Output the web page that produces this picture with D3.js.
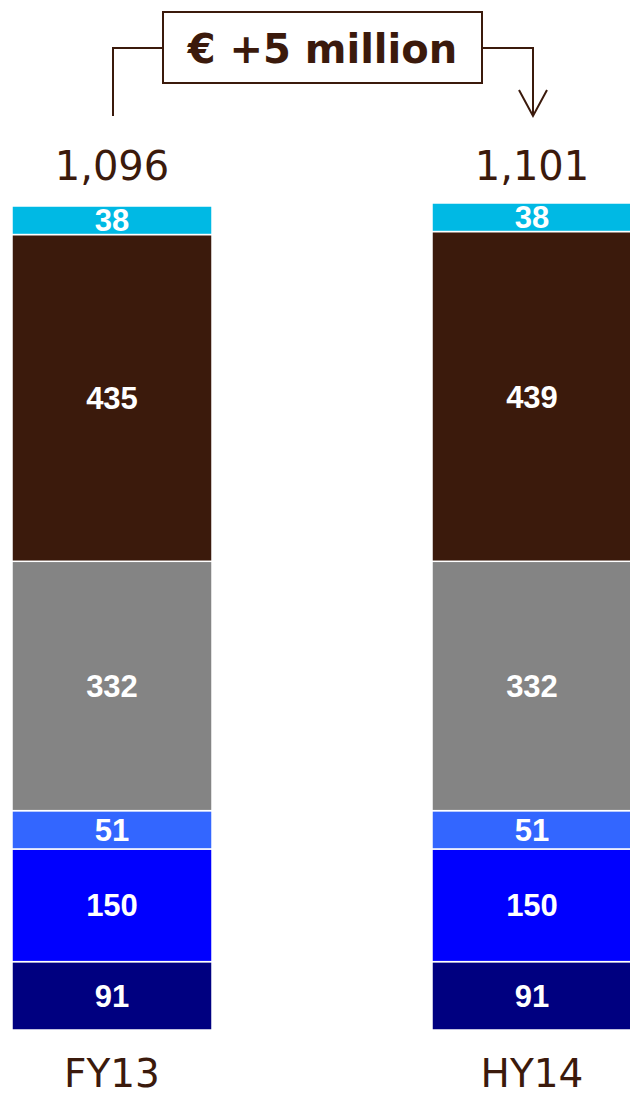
<!DOCTYPE html>
<html>
<head>
<meta charset="utf-8">
<script src="https://cdn.jsdelivr.net/npm/d3@7"></script>
<style>
  html, body { margin: 0; padding: 0; background: #fff; }
  svg { display: block; }
</style>
</head>
<body>
<svg id="chart" width="630" height="1097"></svg>
<script>
// Periods shown as columns
const periods = ["FY13", "HY14"];
const totals = ["1,096", "1,101"];
// Stack components, bottom to top
const segmentKeys = ["s1", "s2", "s3", "s4", "s5", "s6"];
const segmentColors = ["#000080", "#0000ff", "#3366ff", "#848484", "#3b1a0c", "#00b9e4"];
const valuesFY13 = [91, 150, 51, 332, 435, 38];
const valuesHY14 = [91, 150, 51, 332, 439, 38];
const deltaLabel = "€ +5 million";

const brown = "#3b1a0c";
const svg = d3.select("#chart");

const rows = periods.map((p, i) => {
  const vals = i === 0 ? valuesFY13 : valuesHY14;
  const r = { period: p, total: totals[i] };
  segmentKeys.forEach((k, j) => r[k] = vals[j]);
  return r;
});

const stack = d3.stack().keys(segmentKeys);
const series = stack(rows);

const x = d3.scalePoint().domain(periods).range([112, 532]);
const barW = 200;
const y = d3.scaleLinear().domain([0, 1097]).range([1030, 206]);

const layer = svg.append("g")
  .selectAll("g")
  .data(series)
  .join("g")
  .attr("fill", (d, i) => segmentColors[i]);

layer.selectAll("rect")
  .data(d => d)
  .join("rect")
  .attr("x", d => x(d.data.period) - barW / 2)
  .attr("width", barW)
  .attr("y", d => y(d[1]))
  .attr("height", d => y(d[0]) - y(d[1]))
  .attr("stroke", "#fff")
  .attr("stroke-width", 1.5);

// Value labels inside segments
layer.selectAll("text")
  .data(d => d.map(v => ({ v, key: d.key })))
  .join("text")
  .attr("x", d => x(d.v.data.period))
  .attr("y", d => (y(d.v[0]) + y(d.v[1])) / 2)
  .attr("dy", "0.36em")
  .attr("text-anchor", "middle")
  .attr("fill", "#fff")
  .attr("font-family", "'Liberation Sans', Arial, sans-serif")
  .attr("font-weight", "bold")
  .attr("font-size", 31)
  .text(d => d.v.data[d.key]);

// Totals above bars
svg.append("g")
  .selectAll("text")
  .data(rows)
  .join("text")
  .attr("x", d => x(d.period))
  .attr("y", 180)
  .attr("text-anchor", "middle")
  .attr("fill", brown)
  .attr("font-family", "'DejaVu Sans', Verdana, sans-serif")
  .attr("font-size", 40)
  .text(d => d.total);

// Category labels under bars
svg.append("g")
  .selectAll("text")
  .data(periods)
  .join("text")
  .attr("x", d => x(d))
  .attr("y", 1087)
  .attr("text-anchor", "middle")
  .attr("fill", brown)
  .attr("font-family", "'DejaVu Sans', Verdana, sans-serif")
  .attr("font-size", 39)
  .text(d => d);

// Change annotation with connector and arrow
const ann = svg.append("g");
const boxL = 163, boxR = 482, boxT = 12, boxB = 83, lineY = 48;
const leftX = 113, rightX = 533, lineBottom = 116;

ann.append("path")
  .attr("d", `M${leftX},${lineBottom} V${lineY} H${boxL}`)
  .attr("fill", "none").attr("stroke", brown).attr("stroke-width", 2);
ann.append("path")
  .attr("d", `M${boxR},${lineY} H${rightX} V${lineBottom}`)
  .attr("fill", "none").attr("stroke", brown).attr("stroke-width", 2);
ann.append("path")
  .attr("d", `M${rightX - 14},${lineBottom - 26} L${rightX},${lineBottom} L${rightX + 14},${lineBottom - 26}`)
  .attr("fill", "none").attr("stroke", brown).attr("stroke-width", 2);

ann.append("rect")
  .attr("x", boxL).attr("y", boxT)
  .attr("width", boxR - boxL).attr("height", boxB - boxT)
  .attr("fill", "#fff").attr("stroke", brown).attr("stroke-width", 2);

ann.append("text")
  .attr("x", (boxL + boxR) / 2)
  .attr("y", 63)
  .attr("text-anchor", "middle")
  .attr("fill", brown)
  .attr("font-family", "'DejaVu Sans', Verdana, sans-serif")
  .attr("font-weight", "bold")
  .attr("font-size", 40)
  .text(deltaLabel);
</script>
</body>
</html>
